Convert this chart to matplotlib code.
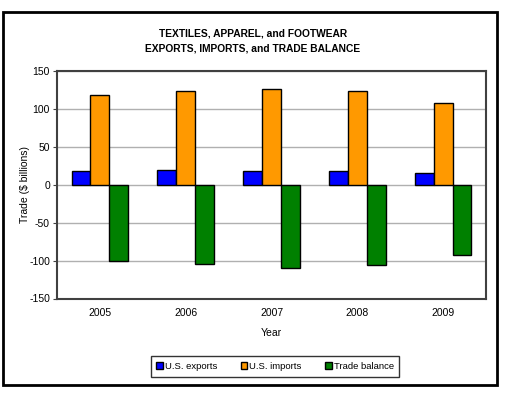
import numpy as np
import matplotlib.pyplot as plt
from matplotlib.patches import Rectangle

plt.rcParams['font.family'] = ['Liberation Sans', 'DejaVu Sans']
plt.rcParams['axes.unicode_minus'] = False

years = ['2005', '2006', '2007', '2008', '2009']
exports = [18.9, 19.2, 18.0, 18.5, 15.4]
imports = [118.9, 124.2, 127.3, 124.2, 108.3]
balance = [-100.0, -104.8, -109.2, -105.2, -92.9]
series_names = ['U.S. exports', 'U.S. imports', 'Trade balance']
colors = ['#0000FF', '#FF9900', '#008000']

fig = plt.figure(figsize=(5.06, 3.98), dpi=100)
ax = fig.add_axes([0.1126, 0.25, 0.848, 0.5704])

x = np.arange(len(years))
w = 0.22
for i, (vals, name, c) in enumerate(zip([exports, imports, balance], series_names, colors)):
    ax.bar(x + (i - 1) * w, vals, w, color=c, edgecolor='black', linewidth=1,
           label=name, zorder=3)

ax.set_xlim(-0.5, 4.5)
ax.set_ylim(-150, 150)
ax.set_yticks(np.arange(-150, 151, 50))
ax.set_xticks(x)
ax.set_xticklabels(years)
ax.yaxis.grid(True, color='#b0b0b0', linewidth=1, zorder=0)
ax.tick_params(axis='x', length=0, labelsize=7.5, pad=7)
ax.tick_params(axis='y', length=3, labelsize=7.5, color='#404040', pad=2)
for s in ax.spines.values():
    s.set_color('#404040')
    s.set_linewidth(1.5)
ax.set_xlabel('Year', fontsize=7.5, labelpad=7)
ax.set_ylabel('Trade ($ billions)', fontsize=7.5)
ax.yaxis.set_label_coords(-0.064, 0.5)

fig.text(0.5, 1 - 41 / 398, 'TEXTILES, APPAREL, and FOOTWEAR\nEXPORTS, IMPORTS, and TRADE BALANCE',
         ha='center', va='center', fontsize=7.4, fontweight='bold', linespacing=1.6)

leg = fig.legend(loc='center', bbox_to_anchor=(275 / 506, 1 - 366.5 / 398), ncol=3,
                 fontsize=6.8, frameon=True, fancybox=False, edgecolor='black',
                 handlelength=0.7, handleheight=0.8, handletextpad=0.2,
                 columnspacing=2.5, borderpad=0.6, borderaxespad=0)
leg.get_frame().set_linewidth(1)

fig.patches.append(Rectangle((3 / 506, 1 - 385 / 398), 494 / 506, 373 / 398,
                             transform=fig.transFigure, fill=False,
                             edgecolor='black', linewidth=2))

fig.savefig('out.png', dpi=100)
